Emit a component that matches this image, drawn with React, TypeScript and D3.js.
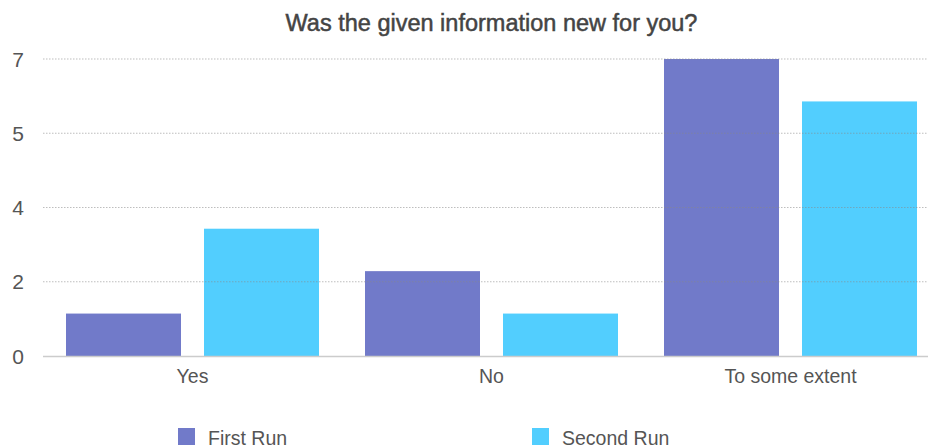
import React from "react";
import * as d3 from "d3";

const categories = ["Yes", "No", "To some extent"];
const seriesNames = ["First Run", "Second Run"];
const firstRun = [1, 2, 7];
const secondRun = [3, 1, 6];
const yTickValues = [0, 1.75, 3.5, 5.25, 7];
const yTickLabels = ["0", "2", "4", "5", "7"];
const colors = ["#717AC9", "#52CEFE"];

const W = 928;
const H = 446;
const plotLeft = 43;
const plotRight = 940;
const plotTop = 59;
const plotBottom = 356;

export default function App() {
  const x0 = d3.scaleBand<string>().domain(categories).range([plotLeft, plotRight]).paddingInner(0).paddingOuter(0);
  const x1 = d3.scaleBand<string>().domain(seriesNames).range([0, x0.bandwidth()]).paddingInner(1 / 6).paddingOuter(1 / 6);
  const y = d3.scaleLinear().domain([0, 7]).range([plotBottom, plotTop]);
  const series = [firstRun, secondRun];
  const font = "'Liberation Sans', Arial, Helvetica, sans-serif";

  return (
    <svg width={W} height={H} style={{ position: "absolute", left: 0, top: 0, background: "#fff" }} fontFamily={font}>
      <text x={(plotLeft + plotRight) / 2} y={31} textAnchor="middle" fontSize={23.5} fill="#444" stroke="#444" strokeWidth={0.5}>
        Was the given information new for you?
      </text>
      {series.map((vals, si) =>
        categories.map((c, ci) => (
          <rect
            key={`${si}-${ci}`}
            x={(x0(c) ?? 0) + (x1(seriesNames[si]) ?? 0)}
            y={y(vals[ci])}
            width={x1.bandwidth()}
            height={plotBottom - y(vals[ci])}
            fill={colors[si]}
          />
        ))
      )}
      {yTickValues.map((t, i) => (
        <g key={i}>
          {t !== 0 && (
            <line x1={plotLeft} x2={W} y1={y(t)} y2={y(t)} stroke="#888" strokeOpacity={0.55} strokeWidth={1} strokeDasharray="1.5,1.5" />
          )}
          <text x={18} y={y(t) + 7.5} textAnchor="middle" fontSize={21} fill="#555">
            {yTickLabels[i]}
          </text>
        </g>
      ))}
      <line x1={plotLeft} x2={W} y1={plotBottom + 0.5} y2={plotBottom + 0.5} stroke="#ccc" strokeWidth={1.5} />
      {categories.map((c) => (
        <text key={c} x={(x0(c) ?? 0) + x0.bandwidth() / 2} y={383} textAnchor="middle" fontSize={19.5} fill="#555">
          {c}
        </text>
      ))}
      {seriesNames.map((s, i) => {
        const lx = i === 0 ? 178 : 532;
        return (
          <g key={s}>
            <rect x={lx} y={428} width={17} height={17} fill={colors[i]} />
            <text x={lx + 30} y={445} fontSize={19.5} fill="#555">
              {s}
            </text>
          </g>
        );
      })}
    </svg>
  );
}
